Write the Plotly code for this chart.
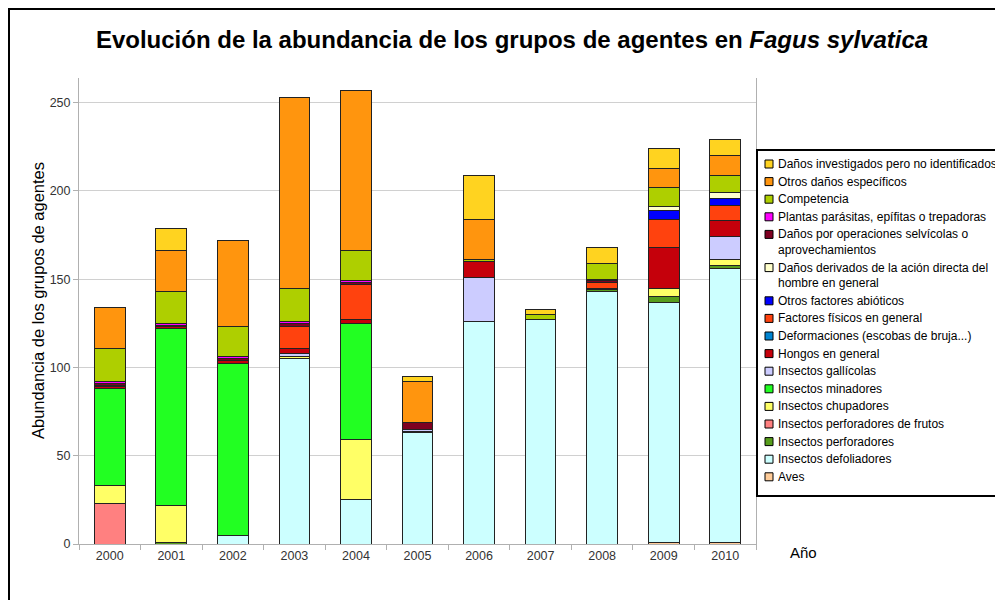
import plotly.graph_objects as go

years = ['2000', '2001', '2002', '2003', '2004', '2005', '2006', '2007', '2008', '2009', '2010']

# series, bottom to top of each stack
aves          = [0, 0, 0, 0, 0, 0, 0, 0, 0, 1, 1]
defoliadores  = [0, 0, 5, 105, 25, 63, 126, 127, 143, 136, 155]
perforadores  = [0, 1, 0, 0, 0, 1, 0, 0, 1, 3, 2]
perf_frutos   = [23, 0, 0, 0, 0, 0, 0, 0, 0, 0, 0]
chupadores    = [10, 21, 0, 1, 34, 0, 0, 0, 0, 5, 3]
minadores     = [55, 100, 97, 0, 66, 0, 0, 0, 0, 0, 0]
gallicolas    = [0, 0, 0, 2, 0, 1, 25, 0, 0, 0, 13]
hongos        = [1, 1, 2, 3, 2, 0, 9, 0, 1, 23, 9]
deformaciones = [1, 0, 0, 0, 0, 0, 0, 0, 0, 0, 0]
fisicos       = [0, 0, 0, 12, 20, 0, 0, 0, 3, 16, 9]
abioticos     = [0, 0, 0, 0, 0, 0, 0, 0, 0, 5, 4]
hombre        = [0, 0, 0, 0, 0, 0, 0, 0, 0, 2, 3]
operaciones   = [1, 1, 1, 2, 1, 4, 0, 0, 1, 0, 0]
plantas       = [1, 1, 1, 1, 1, 0, 0, 0, 1, 0, 0]
competencia   = [19, 18, 17, 19, 17, 0, 1, 3, 9, 11, 10]
otros         = [23, 23, 49, 108, 91, 23, 23, 0, 0, 11, 11]
no_ident      = [0, 13, 0, 0, 0, 3, 25, 3, 9, 11, 9]

series = [
    ("Aves", aves, "#FFCC99"),
    ("Insectos defoliadores", defoliadores, "#CCFFFF"),
    ("Insectos perforadores", perforadores, "#579D1C"),
    ("Insectos perforadores de frutos", perf_frutos, "#FF8080"),
    ("Insectos chupadores", chupadores, "#FFFF66"),
    ("Insectos minadores", minadores, "#22FF22"),
    ("Insectos gallícolas", gallicolas, "#CCCCFF"),
    ("Hongos en general", hongos, "#C5000B"),
    ("Deformaciones (escobas de bruja...)", deformaciones, "#0084D1"),
    ("Factores físicos en general", fisicos, "#FF420E"),
    ("Otros factores abióticos", abioticos, "#0000FF"),
    ("Daños derivados de la ación directa del<br>hombre en general", hombre, "#FFFFCC"),
    ("Daños por operaciones selvícolas o<br>aprovechamientos", operaciones, "#7E0021"),
    ("Plantas parásitas, epífitas o trepadoras", plantas, "#FF00FF"),
    ("Competencia", competencia, "#AECF00"),
    ("Otros daños específicos", otros, "#FF950E"),
    ("Daños investigados pero no identificados", no_ident, "#FFD320"),
]

fig = go.Figure()
for name, vals, color in series:
    fig.add_trace(go.Bar(
        x=years, y=[v if v else None for v in vals], name=name.replace("<br>", " "),
        marker=dict(color=color, line=dict(color="#222222", width=1)),
        showlegend=False,
    ))

# page body has an 8px margin; work in screen pixels and convert
OFF = 8
W, H = 995, 592
L, R, T, B = 71, 247, 70, 56
pw, ph = W - L - R, H - T - B

def px(X):
    return (X - OFF - L) / pw

def py(Y):
    return (H - B - (Y - OFF)) / ph

shapes = [
    dict(type="rect", xref="paper", yref="paper",
         x0=px(OFF + 1), x1=px(1030), y0=py(640), y1=py(OFF + 1),
         line=dict(color="#000000", width=2), fillcolor="rgba(0,0,0,0)", layer="below"),
    dict(type="rect", xref="paper", yref="paper",
         x0=px(757), x1=px(1000), y0=py(496), y1=py(150),
         line=dict(color="#000000", width=2), fillcolor="white", layer="above"),
]
annotations = [
    dict(text="Año", xref="paper", yref="paper", x=px(788), y=py(552),
         xanchor="left", yanchor="middle", showarrow=False,
         font=dict(size=15, color="#000000")),
    dict(text="Abundancia de los grupos de agentes", xref="paper", yref="paper",
         x=px(38), y=py(301), xanchor="center", yanchor="middle", textangle=-90,
         showarrow=False, font=dict(size=16.5, color="#000000")),
]

# legend drawn as a framed list, top entry = top of the stack
ycur = 164.0
for name, vals, color in reversed(series):
    lines = name.split("<br>")
    shapes.append(dict(
        type="rect", xref="paper", yref="paper",
        x0=px(765), x1=px(773), y0=py(ycur + 4), y1=py(ycur - 4),
        line=dict(color="#000000", width=1), fillcolor=color, layer="above"))
    for k, ln in enumerate(lines):
        annotations.append(dict(
            text=ln, xref="paper", yref="paper", x=px(776), y=py(ycur + 15.6 * k),
            xanchor="left", yanchor="middle", showarrow=False,
            font=dict(size=12, color="#000000")))
    ycur += 15.6 * (len(lines) - 1) + 17.6

fig.update_layout(
    width=W, height=H,
    margin=dict(l=L, r=R, t=T, b=B),
    barmode="stack", bargap=0.5,
    paper_bgcolor="white", plot_bgcolor="white",
    font=dict(family="Liberation Sans, Arial, sans-serif", color="#000000"),
    showlegend=False,
    title=dict(
        text="<b>Evolución de la abundancia de los grupos de agentes en <i>Fagus sylvatica</i></b>",
        x=(512 - OFF) / W, xref="container", xanchor="center",
        y=1 - (40 - OFF) / H, yref="container", yanchor="middle",
        font=dict(size=24, color="#000000"),
    ),
    xaxis=dict(
        type="category", ticks="outside", tickson="boundaries", ticklen=5,
        tickcolor="#B0B0B0", showgrid=False, showline=True, linecolor="#B0B0B0",
        tickfont=dict(size=12.5, color="#333333"),
    ),
    yaxis=dict(
        range=[0, 264], tickvals=[0, 50, 100, 150, 200, 250],
        ticks="outside", ticklen=5, tickcolor="#B0B0B0",
        showgrid=True, gridcolor="#D0D0D0", gridwidth=1,
        showline=True, linecolor="#B0B0B0", mirror=True,
        zeroline=False,
        tickfont=dict(size=12.5, color="#333333"),
    ),
    shapes=shapes,
    annotations=annotations,
)

fig.write_html("out.html")
